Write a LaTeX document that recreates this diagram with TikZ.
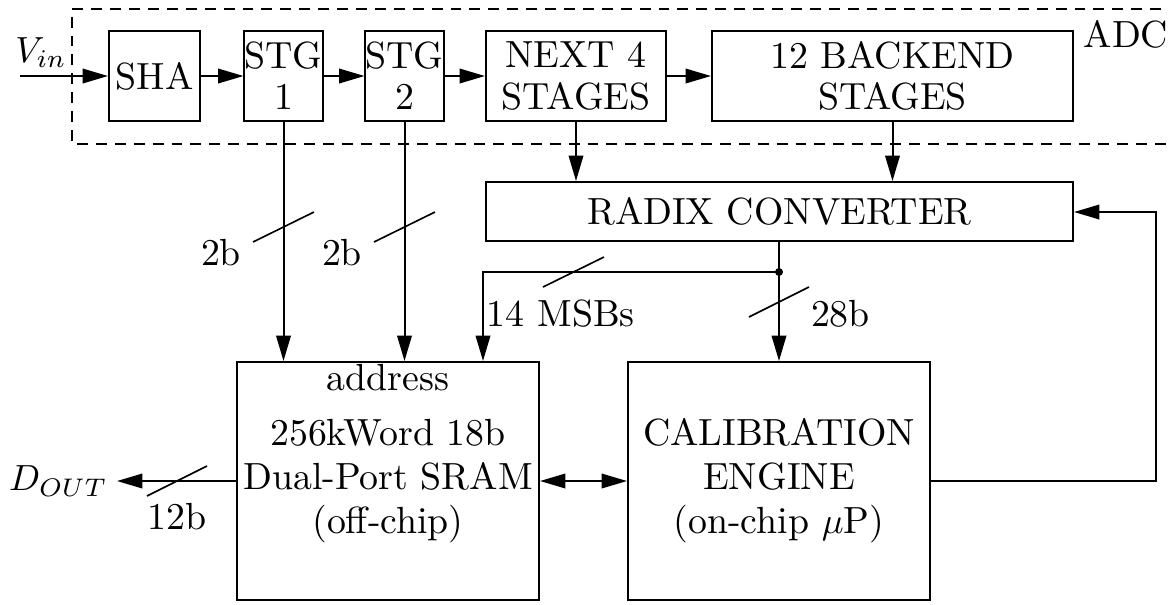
\documentclass[tikz,border=0pt]{standalone}
\usetikzlibrary{arrows.meta}
\begin{document}
\begin{tikzpicture}[x=0.275pt,y=-0.275pt,line width=0.55pt,
  box/.style={draw,inner sep=0pt,align=center,font=\fontsize{10.4}{11.3}\selectfont},
  bigbox/.style={draw,inner sep=0pt,align=center,font=\fontsize{10.4}{12.1}\selectfont},
  arr/.style={-{Triangle[length=7pt,width=4pt]}},
  darr/.style={{Triangle[length=7pt,width=4pt]}-{Triangle[length=7pt,width=4pt]}},
  slash/.style={line width=0.45pt},
  lbl/.style={inner sep=0pt,anchor=base,font=\fontsize{10.4}{12}\selectfont},
  dashbox/.style={dash pattern=on 3pt off 2.2pt,line width=0.45pt}]
\useasboundingbox (0,0) rectangle (1169,604);
% ADC dashed frame
\coordinate (fa) at (1180,9);
\coordinate (fb) at (72,9);
\coordinate (fc) at (72,144);
\coordinate (fd) at (1180,144);
\draw[dashbox] (fa) -- (fb) -- (fc) -- (fd);
\node[lbl] (adc) at (1126,47) {ADC};
% blocks
\node[box,minimum width=25.03pt,minimum height=24.75pt] (sha) at (154.5,76) {SHA};
\node[box,minimum width=21.18pt,minimum height=24.75pt] (s1) at (283.5,76) {STG\\1};
\node[box,minimum width=21.18pt,minimum height=24.75pt] (s2) at (404.5,76) {STG\\2};
\node[box,minimum width=49.5pt,minimum height=24.75pt] (n4) at (576,76) {NEXT 4\\STAGES};
\node[box,minimum width=99.28pt,minimum height=24.75pt] (be) at (892.5,76) {12 BACKEND\\STAGES};
\node[box,minimum width=161.43pt,minimum height=16.23pt] (rc) at (779.5,211.5) {RADIX CONVERTER};
\node[bigbox,minimum width=83.05pt,minimum height=65.45pt] (sram) at (388,481) {256kWord 18b\\Dual-Port SRAM\\(off-chip)};
\node[lbl] (addr) at (388,390) {address};
\node[bigbox,minimum width=83.05pt,minimum height=65.45pt] (cal) at (779,481) {CALIBRATION\\ENGINE\\(on-chip $\mu$P)};
% input
\coordinate (vin) at (20,76);
\node[lbl] (vinl) at (41,62) {$V_{in}$};
\draw[arr] (vin) -- (sha.west);
\draw[arr] (sha.east) -- (s1.west);
\draw[arr] (s1.east) -- (s2.west);
\draw[arr] (s2.east) -- (n4.west);
\draw[arr] (n4.east) -- (be.west);
% stage bits to SRAM
\draw[arr] (s1.south) -- (s1.south |- sram.north);
\draw[slash] (253,242) -- (314,212);
\node[lbl] (b1) at (221,265) {2b};
\draw[arr] (s2.south) -- (s2.south |- sram.north);
\draw[slash] (374,242) -- (435,212);
\node[lbl] (b2) at (342,265) {2b};
% to radix converter
\draw[arr] (n4.south) -- (n4.south |- rc.north);
\draw[arr] (be.south) -- (be.south |- rc.north);
% radix converter outputs
\coordinate (j) at (779,272);
\coordinate (m) at (483,272);
\draw (rc.south -| j) -- (j);
\fill (j) circle (4);
\draw[arr] (j) -- (m) -- (m |- sram.north);
\draw[slash] (543,287) -- (604,257);
\node[lbl,anchor=base west] (msb) at (486,326) {14 MSBs};
\draw[arr] (j) -- (j |- cal.north);
\draw[slash] (749,317) -- (809,287);
\node[lbl,anchor=base west] (b28) at (810,326) {28b};
% SRAM <-> CAL
\draw[darr] (sram.east) -- (cal.west);
% feedback
\coordinate (f1) at (1156,481);
\coordinate (f2) at (1156,212);
\draw[arr] (cal.east) -- (f1) -- (f2) -- (f2 -| rc.east);
% output
\node[lbl,anchor=west] (dout) at (8,481) {$D_{OUT}$};
\coordinate (o) at (117,481);
\draw[arr] (sram.west) -- (o);
\draw[slash] (147,496) -- (207,466);
\node[lbl] (b12) at (177,529) {12b};
\end{tikzpicture}
\end{document}
